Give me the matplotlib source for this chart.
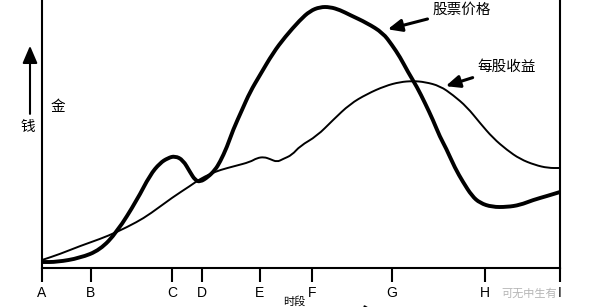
import matplotlib
matplotlib.use("Agg")
import matplotlib.pyplot as plt
from matplotlib.path import Path
from matplotlib.patches import PathPatch, FancyArrowPatch

plt.rcParams['font.family'] = ['Noto Sans CJK SC', 'DejaVu Sans']

# time axis ticks (x measured from point A)
tick_pos = [0, 49, 130, 160, 218, 270, 350, 443, 518]
tick_labels = ['A', 'B', 'C', 'D', 'E', 'F', 'G', 'H', 'I']

# stock price (thick line)
price_x = [0, 15, 38, 58, 75, 95, 108, 118, 126, 133, 141, 148, 153, 158, 166, 173,
           178, 185, 191, 200, 208, 218, 231, 243, 258, 268, 278, 288, 298, 308,
           325, 341, 350, 358, 366, 375, 383, 391, 398, 404, 413, 421, 430, 438,
           450, 465, 478, 491, 505, 518]
price_y = [6, 6, 10, 18, 36, 68, 93, 105, 110, 112, 108, 96, 88, 86, 91, 98,
           106, 121, 138, 158, 176, 193, 215, 231, 248, 257, 261, 261, 258, 253,
           245, 235, 223, 211, 196, 181, 165, 148, 131, 120, 100, 86, 72, 65,
           61, 61, 63, 68, 72, 76]

# earnings per share (thin line)
eps_x = [0, 18, 38, 58, 75, 95, 108, 131, 148, 158, 168, 178, 193, 208, 215,
         222, 228, 235, 241, 250, 258, 275, 291, 308, 325, 343, 358, 371, 383,
         398, 411, 425, 438, 451, 465, 478, 493, 506, 518]
eps_y = [8, 14, 22, 29, 36, 46, 54, 71, 82, 89, 94, 98, 102, 106, 110, 111,
         109, 106, 109, 113, 122, 132, 148, 164, 174, 182, 186, 187, 186, 182,
         173, 161, 145, 130, 118, 109, 103, 100, 100]


def smooth_path(xs, ys):
    # quadratic bezier pieces through midpoints, points act as control points
    pts = list(zip(xs, ys))
    verts = [pts[0]]
    codes = [Path.MOVETO]
    mid = lambda a, b: ((a[0] + b[0]) / 2, (a[1] + b[1]) / 2)
    verts.append(mid(pts[0], pts[1]))
    codes.append(Path.LINETO)
    for i in range(1, len(pts) - 1):
        verts += [pts[i], mid(pts[i], pts[i + 1])]
        codes += [Path.CURVE3, Path.CURVE3]
    verts.append(pts[-1])
    codes.append(Path.LINETO)
    return Path(verts, codes)


fig = plt.figure(figsize=(6, 3.07), dpi=100)
ax = fig.add_axes([0.07, 0.127, 0.8633, 0.873])

ax.add_patch(PathPatch(smooth_path(price_x, price_y), fill=False,
                       edgecolor='black', lw=2.8, capstyle='round', joinstyle='round'))
ax.add_patch(PathPatch(smooth_path(eps_x, eps_y), fill=False,
                       edgecolor='black', lw=1.4))

ax.set_xlim(0, 518)
ax.set_ylim(0, 268)
ax.set_xticks(tick_pos)
ax.set_xticklabels(tick_labels, family='Liberation Sans', fontsize=10)
ax.set_yticks([])
ax.tick_params(axis='x', direction='out', length=10, width=1.5, pad=3)
ax.spines['top'].set_visible(False)
for s in ['left', 'bottom', 'right']:
    ax.spines[s].set_linewidth(1.5)

arrow = dict(arrowstyle='-|>,head_width=0.35,head_length=0.8', color='black', lw=2.2)
ax.annotate('股票价格', xy=(343, 238), xytext=(391, 258), fontsize=10.5,
            va='center', ha='left', arrowprops=arrow)
ax.annotate('每股收益', xy=(401, 181), xytext=(435, 201), fontsize=10.5,
            va='center', ha='left', arrowprops=arrow)

# y axis caption with arrow
fig.add_artist(FancyArrowPatch(
    (0.05, 0.62), (0.05, 0.86), transform=fig.transFigure,
    arrowstyle='-|>,head_width=0.3,head_length=0.7', color='black', lw=1.5,
    mutation_scale=15))
fig.text(0.047, 0.585, '钱', fontsize=10.5, ha='center', va='center')
fig.text(0.097, 0.651, '金', fontsize=10.5, ha='center', va='center')

# x axis caption, sits at the very bottom edge
fig.text(0.49, 0.002, '时段', fontsize=8, ha='center', va='bottom')
fig.add_artist(FancyArrowPatch(
    (0.56, -0.025), (0.64, -0.025), transform=fig.transFigure,
    arrowstyle='-|>,head_width=0.4,head_length=0.7', color='black', lw=1.5,
    mutation_scale=15))

fig.text(0.882, 0.045, '可无中生有', fontsize=8, color='#b5b5b5',
         ha='center', va='center')

fig.savefig('out.png', dpi=100)
